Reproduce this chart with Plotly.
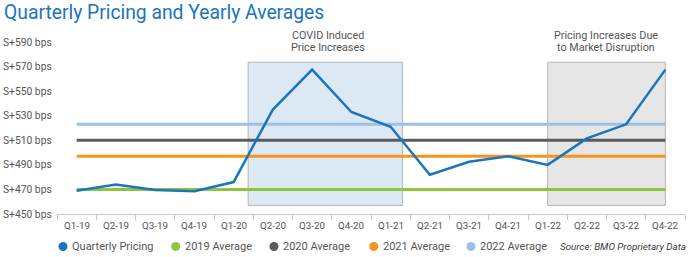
import plotly.graph_objects as go

quarters = ["Q1-19", "Q2-19", "Q3-19", "Q4-19", "Q1-20", "Q2-20", "Q3-20", "Q4-20",
            "Q1-21", "Q2-21", "Q3-21", "Q4-21", "Q1-22", "Q2-22", "Q3-22", "Q4-22"]
quarterly_pricing = [469, 474, 469.5, 468.5, 476, 535, 567.5, 533,
                     521, 482, 492.5, 497, 490, 511.5, 523, 567.5]
avg_names = ["2019 Average", "2020 Average", "2021 Average", "2022 Average"]
avg_values = [470, 510, 497, 523]
avg_colors = ["#8cc63f", "#5b5b5b", "#f7941d", "#9cc0e6"]
y_ticks = [450, 470, 490, 510, 530, 550, 570, 590]
y_tick_labels = ["S+%d bps" % v for v in y_ticks]
legend_names = ["Quarterly Pricing"] + avg_names
source_text = "<i>Source: BMO Proprietary Data</i>"

FONT = "Roboto, Noto Sans, sans-serif"
TXT = "#555555"
BLUE = "#1a75bb"

W, H = 694, 257
ML, MR, MT, MB = 57, 9, 42, 43
PW, PH = W - ML - MR, H - MT - MB


def px_x(p):
    return (p - ML) / PW


def px_y(p):
    return (H - MB - p) / PH


def fnt(size, color=TXT):
    return dict(family=FONT, size=size, color=color)


fig = go.Figure()

for name, val, col in zip(avg_names, avg_values, avg_colors):
    fig.add_trace(go.Scatter(x=quarters, y=[val] * len(quarters), mode="lines", name=name,
                             line=dict(color=col, width=3), showlegend=False))

fig.add_trace(go.Scatter(x=quarters, y=quarterly_pricing, mode="lines", name="Quarterly Pricing",
                         line=dict(color=BLUE, width=2.5), showlegend=False))

fig.add_shape(type="rect", xref="x", yref="y", x0=4.37, x1=8.3, y0=457, y1=573.5,
              fillcolor="#dde8f5", line=dict(color="#b4b4b4", width=1), layer="below")
fig.add_shape(type="rect", xref="x", yref="y", x0=12, x1=15, y0=457, y1=573.5,
              fillcolor="#e6e6e6", line=dict(color="#b4b4b4", width=1), layer="below")

for txt, yy in [("COVID Induced", 35.2), ("Price Increases", 47.6)]:
    fig.add_annotation(x=px_x(328), y=px_y(yy), xref="paper", yref="paper", text=txt,
                       showarrow=False, font=fnt(10.8), xanchor="center", yanchor="middle",
                       borderpad=0)
for txt, yy in [("Pricing Increases Due", 35.2), ("to Market Disruption", 47.6)]:
    fig.add_annotation(x=px_x(606), y=px_y(yy), xref="paper", yref="paper", text=txt,
                       showarrow=False, font=fnt(10.8), xanchor="center", yanchor="middle",
                       borderpad=0)

# axis tick labels placed through the axes' scales
for q in quarters:
    fig.add_annotation(x=q, y=px_y(225), xref="x", yref="paper", text=q,
                       showarrow=False, xanchor="center", yanchor="middle", font=fnt(9.8))
for v, t in zip(y_ticks, y_tick_labels):
    fig.add_annotation(x=px_x(54), y=v, xref="paper", yref="y", text=t,
                       showarrow=False, xanchor="right", yanchor="middle", font=fnt(10.3))

legend_cx = [63, 175.6, 274, 373.8, 471]
for name, col, cx in zip(legend_names, [BLUE] + avg_colors, legend_cx):
    fig.add_shape(type="circle", xref="paper", yref="paper", xsizemode="pixel", ysizemode="pixel",
                  xanchor=px_x(cx), yanchor=px_y(246.5), x0=-4.5, x1=4.5, y0=-4.5, y1=4.5,
                  fillcolor=col, line=dict(width=0))
    fig.add_annotation(x=px_x(cx + 7), y=px_y(246.5), xref="paper", yref="paper", text=name,
                       showarrow=False, xanchor="left", yanchor="middle", font=fnt(11))

fig.add_annotation(x=px_x(688), y=px_y(246.5), xref="paper", yref="paper", xanchor="right",
                   yanchor="middle", text=source_text, showarrow=False,
                   font=fnt(9.8, "#3a3a3a"))

fig.update_layout(
    width=W, height=H,
    margin=dict(l=ML, r=MR, t=MT, b=MB, autoexpand=False),
    paper_bgcolor="white", plot_bgcolor="white",
    title=dict(text="Quarterly Pricing and Yearly Averages",
               x=4 / W, xanchor="left", y=1 - 12 / H, yanchor="middle", font=fnt(19.3, BLUE)),
    font=dict(family=FONT, color=TXT),
    showlegend=False,
    xaxis=dict(type="category", range=[-0.5, 15.5], showgrid=False, showline=True,
               linecolor="#c8c8c8", ticks="outside", tickson="boundaries", ticklen=5,
               tickcolor="#c8c8c8", showticklabels=False, fixedrange=True),
    yaxis=dict(range=[450, 590], showgrid=False, zeroline=False, showline=False,
               tickvals=y_ticks, ticks="", showticklabels=False),
)

fig.write_html("out.html")
